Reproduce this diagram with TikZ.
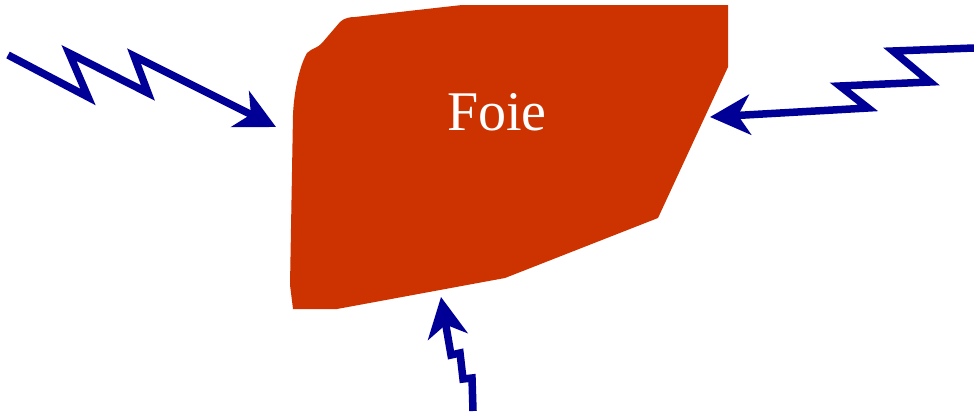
\documentclass[tikz,border=0pt]{standalone}
\usepackage{fontspec}
\setmainfont{Liberation Serif}
\usetikzlibrary{arrows.meta}
\definecolor{liver}{RGB}{204,51,0}
\definecolor{zap}{RGB}{0,0,150}
\begin{document}
\begin{tikzpicture}[x=1pt,y=-1pt,
  organ/.style={fill=liver,draw=none},
  bolt/.style={draw=zap,line width=7.5pt,line join=miter,
    -{Stealth[length=40pt,width=40pt,inset=12pt]}},
  label/.style={text=white,font=\fontsize{56}{60}\selectfont}]
\useasboundingbox (0,0) rectangle (974,415);
% liver shape
\fill[organ] (355,17) -- (462,5) -- (728,5) -- (728,67) -- (658,218) -- (505,278)
  -- (337,309) -- (293,309) -- (290,285) -- (293,115)
  .. controls (294,90) and (300,65) .. (307,53)
  .. controls (312,48) and (318,48) .. (322,43)
  -- (340,22) .. controls (344,18) and (350,17) .. (355,17) -- cycle;
\node[label] (foie) at (497,112) {Foie};
% arrow endpoints
\coordinate (lstart) at (8,55);
\coordinate (ltip) at (276,127);
\coordinate (rstart) at (974,48);
\coordinate (rtip) at (710,117);
\coordinate (bstart) at (473,411);
\coordinate (btip) at (441,297);
% left bolt
\draw[bolt] (lstart) -- (88,97) -- (69,53) -- (148,93) -- (134,56) -- (ltip);
% right bolt
\draw[bolt] (rstart) -- (893,51) -- (930,82) -- (840,86) -- (868,108) -- (rtip);
% bottom bolt
\draw[bolt] (bstart) -- (472,378) -- (463,379) -- (460,353) -- (451,355) -- (btip);
\end{tikzpicture}
\end{document}
